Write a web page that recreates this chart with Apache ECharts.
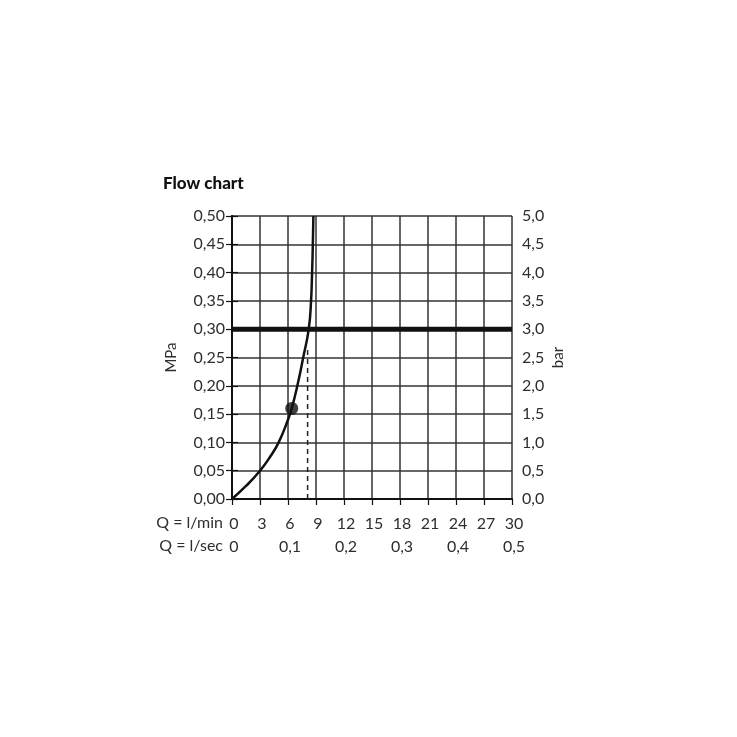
<!DOCTYPE html>
<html>
<head>
<meta charset="utf-8">
<script src="https://cdn.jsdelivr.net/npm/echarts@6/dist/echarts.min.js"></script>
<style>
html,body{margin:0;padding:0;background:#fff;}
#chart{width:737px;height:737px;}
</style>
</head>
<body>
<div id="chart"></div>
<script>
// Flow curve: [Q l/min, P MPa]
const flowCurve = [[0,0],[1.5,0.023],[3,0.05],[4.1,0.075],[5.0,0.10],[6.0,0.14],[6.4,0.16],[7.0,0.20],[7.63,0.25],[8.22,0.30],[8.47,0.35],[8.58,0.40],[8.66,0.45],[8.72,0.50]];
const operatingPoint = [[6.4,0.16]];
const pressureLimit = [[0,0.30],[30,0.30]];
const dashedLine = [[8.1,0],[8.1,0.27]];
const lminTicks = [0,3,6,9,12,15,18,21,24,27,30];
const lsecTicks = ['0','0,1','0,2','0,3','0,4','0,5'];
const mpaTicks = ['0,00','0,05','0,10','0,15','0,20','0,25','0,30','0,35','0,40','0,45','0,50'];
const barTicks = ['0,0','0,5','1,0','1,5','2,0','2,5','3,0','3,5','4,0','4,5','5,0'];

const FONT = 'Lato';
const TXT = '#2e2e2e';
const chart = echarts.init(document.getElementById('chart'), null, {renderer:'canvas'});
const L=232, R=512, T=216, B=499;
chart.setOption({
  animation:false,
  backgroundColor:'#fff',
  title:{text:'Flow chart',left:158,top:170,textStyle:{fontFamily:FONT,fontWeight:900,fontSize:17,color:'#111'}},
  grid:{left:L,top:T,width:R-L,height:B-T,containLabel:false},
  xAxis:[{
    type:'value',min:0,max:30,interval:3,position:'bottom',
    axisLine:{show:true,lineStyle:{color:'#111',width:2}},
    axisTick:{show:true,inside:false,length:6,lineStyle:{color:'#111',width:1.2}},
    axisLabel:{show:true,margin:17,padding:[0,0,0,4],fontFamily:FONT,fontSize:16,color:TXT,formatter:v=>String(lminTicks[Math.round(v/3)])},
    splitLine:{show:true,lineStyle:{color:'#333',width:1.5}}
  },{
    type:'value',min:0,max:0.5,interval:0.1,position:'bottom',offset:23,
    axisLine:{show:false},axisTick:{show:false},splitLine:{show:false},
    axisLabel:{show:true,margin:17,padding:[0,0,0,4],fontFamily:FONT,fontSize:16,color:TXT,formatter:v=>lsecTicks[Math.round(v*10)]}
  }],
  yAxis:[{
    type:'value',min:0,max:0.5,interval:0.05,position:'left',
    name:'MPa',nameLocation:'middle',nameGap:53,nameRotate:90,
    nameTextStyle:{fontFamily:FONT,fontSize:15,color:TXT},
    axisLine:{show:true,lineStyle:{color:'#111',width:2}},
    axisTick:{show:true,length:6,lineStyle:{color:'#111',width:1.2}},
    axisLabel:{margin:7,fontFamily:FONT,fontSize:16,color:TXT,formatter:v=>mpaTicks[Math.round(v/0.05)]},
    splitLine:{show:true,lineStyle:{color:'#333',width:1.5}}
  },{
    type:'value',min:0,max:5,interval:0.5,position:'right',
    name:'bar',nameLocation:'middle',nameGap:39,nameRotate:90,
    nameTextStyle:{fontFamily:FONT,fontSize:15,color:TXT},
    axisLine:{show:true,lineStyle:{color:'#111',width:2}},
    axisTick:{show:true,length:6,lineStyle:{color:'#111',width:1.2}},
    axisLabel:{margin:10,fontFamily:FONT,fontSize:16,color:TXT,formatter:v=>barTicks[Math.round(v/0.5)]},
    splitLine:{show:false}
  }],
  graphic:[
    {type:'text',right:737-223,top:515,style:{text:'Q = l/min',fontFamily:FONT,fontSize:16,fill:TXT,textAlign:'right'}},
    {type:'text',right:737-223,top:538,style:{text:'Q = l/sec',fontFamily:FONT,fontSize:16,fill:TXT,textAlign:'right'}}
  ],
  series:[
    {type:'line',data:pressureLimit,xAxisIndex:0,yAxisIndex:0,symbol:'none',lineStyle:{color:'#111',width:5},z:3},
    {type:'line',data:dashedLine,xAxisIndex:0,yAxisIndex:0,symbol:'none',lineStyle:{color:'#222',width:1.5,type:[5,4]},z:3},
    {type:'line',data:flowCurve,xAxisIndex:0,yAxisIndex:0,symbol:'none',smooth:true,lineStyle:{color:'#111',width:2.5},z:4},
    {type:'scatter',data:operatingPoint,xAxisIndex:0,yAxisIndex:0,symbol:'circle',symbolSize:13,itemStyle:{color:'#111'},z:5}
  ]
});
</script>
</body>
</html>
